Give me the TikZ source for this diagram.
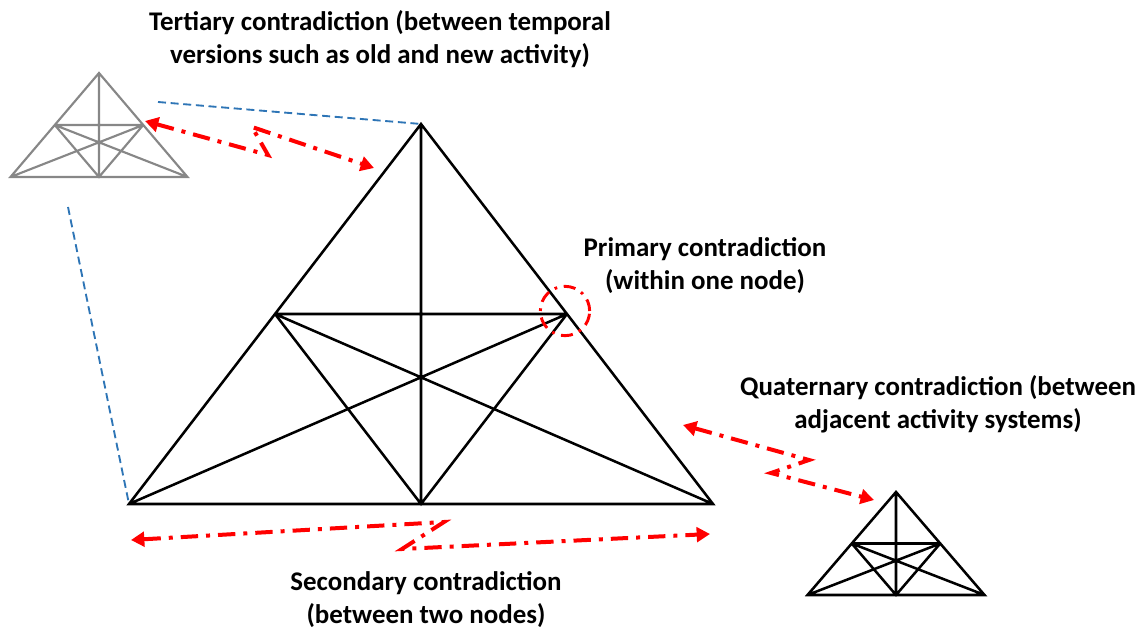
\documentclass[tikz,border=0pt]{standalone}
\usepackage{fontspec}
\setmainfont{Carlito}
\usetikzlibrary{arrows.meta}
\definecolor{triGray}{HTML}{878787}
\definecolor{linkBlue}{HTML}{2E75B6}
\definecolor{contraRed}{HTML}{FF0000}
\newcommand\drawstar[6]{%
  \coordinate (#1-a) at (#2,#3);
  \coordinate (#1-l) at ({#2-#4},{#3+#5});
  \coordinate (#1-r) at ({#2+#4},{#3+#5});
  \coordinate (#1-b) at (#2,{#3+#5});
  \coordinate (#1-ml) at ({#2-#4/2},{#3+#5/2});
  \coordinate (#1-mr) at ({#2+#4/2},{#3+#5/2});
  \draw[#6] (#1-a) -- (#1-l) -- (#1-r) -- cycle
    (#1-a) -- (#1-b)
    (#1-ml) -- (#1-mr)
    (#1-ml) -- (#1-b) -- (#1-mr)
    (#1-ml) -- (#1-r)
    (#1-mr) -- (#1-l);
}
\begin{document}
\begin{tikzpicture}[x=0.75pt,y=-0.75pt,
  tri/.style={line width=1.9pt, line join=miter, draw=black},
  gtri/.style={line width=1.6pt, line join=miter, draw=triGray},
  contra/.style={draw=contraRed, line width=3pt, line join=miter,
    dash pattern=on 13pt off 6pt on 3pt off 6pt,
    {Triangle[length=10pt,width=11pt]}-{Triangle[length=10pt,width=11pt]}},
  link/.style={draw=linkBlue, line width=1.4pt, dash pattern=on 6pt off 3.5pt},
  lbl/.style={font=\bfseries\fontsize{20.2}{24.8}\selectfont, align=center, inner sep=0pt}]
\useasboundingbox (0,0) rectangle (1138,630);

% triangles
\drawstar{big}{421}{124}{292}{380}{tri}
\drawstar{old}{99}{73}{88.5}{104}{gtri}
\drawstar{adj}{896}{492}{88.5}{103}{tri}

% blue dashed links between old and main activity
\coordinate (oldTop) at (158,102);
\coordinate (oldLow) at (68,207);
\draw[link] (oldTop) -- (big-a);
\draw[link] (oldLow) -- (big-l);

% labels
\node[lbl] (tert) at (380,39) {Tertiary contradiction (between temporal\\versions such as old and new activity)};
\node[lbl] (prim) at (705,266) {Primary contradiction\\(within one node)};
\node[lbl] (quat) at (938,404) {Quaternary contradiction (between\\adjacent activity systems)};
\node[lbl] (sec) at (426,600) {Secondary contradiction\\(between two nodes)};

% primary contradiction circle
\node[draw=contraRed, line width=2.2pt, circle, minimum size=37pt, inner sep=0pt,
  dash pattern=on 9pt off 5pt on 2pt off 5pt] (primc) at (565,311) {};

% tertiary arrow
\coordinate (t1) at (145,121);
\coordinate (t2) at (268,155);
\coordinate (t3) at (252,127);
\coordinate (t4) at (374,168);
\draw[contra] (t1) -- (t2) -- (t3) -- (t4);

% secondary arrow
\coordinate (s1) at (131,540);
\coordinate (s2) at (444,522);
\coordinate (s3) at (402,549);
\coordinate (s4) at (710,534);
\draw[contra] (s1) -- (s2) -- (s3) -- (s4);

% quaternary arrow
\coordinate (q1) at (683,425);
\coordinate (q2) at (809,460);
\coordinate (q3) at (771,473);
\coordinate (q4) at (874,500);
\draw[contra] (q1) -- (q2) -- (q3) -- (q4);
\end{tikzpicture}
\end{document}
